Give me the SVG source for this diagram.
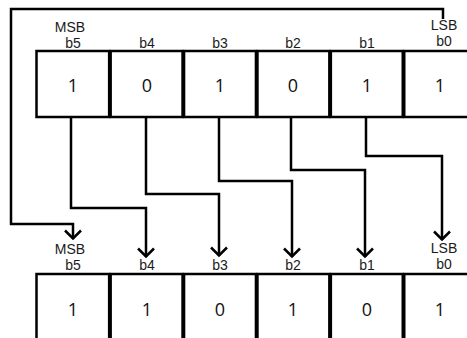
<svg xmlns="http://www.w3.org/2000/svg" width="467" height="338" viewBox="0 0 467 338">
  <style>
    .cell { fill: #ffffff; stroke: #000000; stroke-width: 2.5; }
    .bit { font-family: "Open Sans", "DejaVu Sans", sans-serif; font-size: 18px; fill: #111111; text-anchor: middle; }
    .lbl { font-family: "Liberation Sans", Arial, sans-serif; font-size: 14px; fill: #1a1a1a; text-anchor: middle; }
    .wire { fill: none; stroke: #000000; stroke-width: 2.5; stroke-linejoin: miter; }
  </style>
  <defs>
    <marker id="chevron" markerUnits="userSpaceOnUse" viewBox="0 0 14 20" markerWidth="14" markerHeight="20" refX="11" refY="10" orient="auto">
      <path d="M2.5,2 L10.5,10 L2.5,18" fill="none" stroke="#000000" stroke-width="2.5"/>
    </marker>
  </defs>

  <rect width="467" height="338" fill="#ffffff"/>

  <!-- source register -->
  <g id="src-b5">
    <rect class="cell" x="36.5" y="51" width="72.65" height="66"/>
    <text class="lbl" x="70" y="32">MSB</text>
    <text class="lbl" x="73" y="48">b5</text>
    <text class="bit" x="73" y="92">1</text>
  </g>
  <g id="src-b4">
    <rect class="cell" x="110.65" y="51" width="71.9" height="66"/>
    <text class="lbl" x="147" y="48">b4</text>
    <text class="bit" x="147" y="92">0</text>
  </g>
  <g id="src-b3">
    <rect class="cell" x="184.05" y="51" width="71.9" height="66"/>
    <text class="lbl" x="220" y="48">b3</text>
    <text class="bit" x="220" y="92">1</text>
  </g>
  <g id="src-b2">
    <rect class="cell" x="257.45" y="51" width="71.9" height="66"/>
    <text class="lbl" x="293" y="48">b2</text>
    <text class="bit" x="293" y="92">0</text>
  </g>
  <g id="src-b1">
    <rect class="cell" x="330.85" y="51" width="71.9" height="66"/>
    <text class="lbl" x="367" y="48">b1</text>
    <text class="bit" x="367" y="92">1</text>
  </g>
  <g id="src-b0">
    <rect class="cell" x="404.25" y="51" width="80" height="66"/>
    <text class="lbl" x="444" y="30">LSB</text>
    <text class="lbl" x="444" y="46">b0</text>
    <text class="bit" x="440" y="92">1</text>
  </g>

  <!-- rotated register -->
  <g id="dst-b5">
    <rect class="cell" x="36.5" y="274" width="72.65" height="80"/>
    <text class="lbl" x="70" y="254">MSB</text>
    <text class="lbl" x="73" y="270">b5</text>
    <text class="bit" x="73" y="316">1</text>
  </g>
  <g id="dst-b4">
    <rect class="cell" x="110.65" y="274" width="71.9" height="80"/>
    <text class="lbl" x="147" y="270">b4</text>
    <text class="bit" x="147" y="316">1</text>
  </g>
  <g id="dst-b3">
    <rect class="cell" x="184.05" y="274" width="71.9" height="80"/>
    <text class="lbl" x="220" y="270">b3</text>
    <text class="bit" x="220" y="316">0</text>
  </g>
  <g id="dst-b2">
    <rect class="cell" x="257.45" y="274" width="71.9" height="80"/>
    <text class="lbl" x="293" y="270">b2</text>
    <text class="bit" x="293" y="316">1</text>
  </g>
  <g id="dst-b1">
    <rect class="cell" x="330.85" y="274" width="71.9" height="80"/>
    <text class="lbl" x="367" y="270">b1</text>
    <text class="bit" x="367" y="316">0</text>
  </g>
  <g id="dst-b0">
    <rect class="cell" x="404.25" y="274" width="80" height="80"/>
    <text class="lbl" x="444" y="253">LSB</text>
    <text class="lbl" x="444" y="269">b0</text>
    <text class="bit" x="440" y="316">1</text>
  </g>

  <!-- bit routing: each bit moves one place left, b5 wraps round to b0 -->
  <g id="connectors">
    <path class="wire" d="M443,19 V9 H11 V224 H73 V239" marker-end="url(#chevron)"/>
    <path class="wire" d="M71,117 V208 H146 V257" marker-end="url(#chevron)"/>
    <path class="wire" d="M146,117 V194 H219 V256" marker-end="url(#chevron)"/>
    <path class="wire" d="M219,117 V181 H292 V257" marker-end="url(#chevron)"/>
    <path class="wire" d="M291,117 V170 H365 V257" marker-end="url(#chevron)"/>
    <path class="wire" d="M366,117 V156 H442 V240" marker-end="url(#chevron)"/>
  </g>
</svg>
